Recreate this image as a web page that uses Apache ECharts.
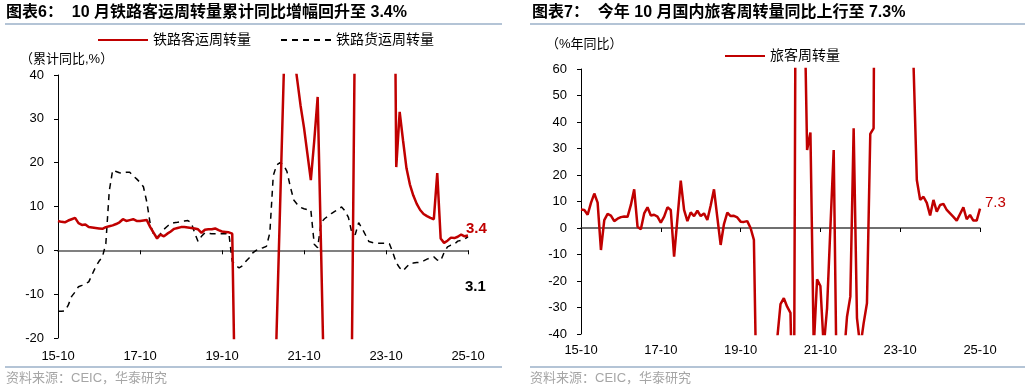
<!DOCTYPE html>
<html>
<head>
<meta charset="utf-8">
<script src="https://cdn.jsdelivr.net/npm/echarts@6/dist/echarts.min.js"></script>
<style>
  html, body { margin: 0; padding: 0; background: #fff; }
  #chart { width: 1031px; height: 392px; }
</style>
</head>
<body>
<div id="chart"></div>
<script>
(function () {
  'use strict';

  // monthly categories 2015-10 .. 2025-10
  const months = [];
  for (let i = 0; i < 121; i++) {
    const y = 2015 + Math.floor((9 + i) / 12);
    const mo = ((9 + i) % 12) + 1;
    months.push(String(y).slice(2) + '-' + String(mo).padStart(2, '0'));
  }

  // 图表6: 铁路客运周转量 累计同比 (%)
  const railPassenger = [
    6.7, 6.5, 6.4, 6.8, 7.1, 7.4, 6.2, 5.8, 5.9, 5.3,
    5.2, 5.1, 5.0, 4.9, 5.3, 5.5, 5.7, 6.0, 6.4, 7.1,
    6.7, 6.9, 7.1, 6.7, 6.7, 6.8, 6.9, 5.3, 4.0, 2.7,
    3.6, 3.2, 3.8, 4.3, 4.9, 5.1, 5.3, 5.3, 5.2, 5.1,
    5.0, 4.8, 4.0, 4.7, 4.8, 4.8, 5.0, 4.6, 4.3, 4.2,
    4.1, 3.8, -44, -52, -55, -53, -51, -49, -48, -47,
    -46, -45, -44, -48, -18, 10, 38, 66, 60, 45,
    39, 33, 28, 22, 16, 25, 35, 0, -36, -38,
    -36, -35, -34, -33, -32, -30, -25, 60, 90, 110,
    120, 125, 125, 124, 123, 122, 121, 120, 118, 19,
    31.6, 25, 18.7, 15, 12.5, 10.6, 9.2, 8.3, 7.8, 7.4,
    7.1, 17.6, 2.7, 1.7, 2.2, 2.9, 2.8, 3.1, 3.6, 3.2,
    3.4
  ];

  // 图表6: 铁路货运周转量 累计同比 (%)
  const railFreight = [
    -13.9, -13.9, -13.8, -12.5, -10.5, -9.5, -8.3, -8.0, -7.6, -7.2,
    -5.5, -3.8, -2.5, -1.5, 1.5, 13.5, 18.3, 18.0, 17.7, 17.6,
    17.8, 17.8, 17.0, 16.3, 15.5, 14.5, 11.0, 6.0, 3.6, 3.0,
    3.8, 4.8, 5.5, 6.1, 6.3, 6.4, 6.6, 6.7, 6.8, 6.3,
    4.0, 2.0, 3.2, 4.0, 3.9, 3.8, 3.8, 3.8, 3.8, 3.8,
    3.9, -2.5, -3.5, -4.0, -3.5, -2.5, -1.7, -0.6, 0.0, 0.4,
    0.6, 0.9, 4.0, 17.0, 19.5, 20.0, 19.5, 18.0, 14.5, 11.5,
    10.5, 9.8, 9.5, 9.3, 9.2, 1.4, 0.6, 6.3, 7.2, 7.8,
    8.4, 8.9, 9.3, 9.9, 9.0, 7.5, 4.0, 3.6, 6.3, 5.0,
    3.5, 2.0, 1.8, 1.6, 1.6, 1.6, 1.6, 1.5, -0.5, -2.8,
    -4.0, -4.7, -3.8, -3.0, -2.9, -2.8, -2.7, -2.4, -2.0, -1.7,
    -1.5, -2.2, -2.4, -0.5, 0.8, 1.2, 1.4, 2.1, 2.3, 2.6,
    3.1
  ];

  // 图表7: 旅客周转量 同比 (%)
  const passengerTurnover = [
    7.0, 6.8, 5.0, 9.5, 13.0, 9.6, -8.3, 3.0, 5.3, 4.7,
    2.6, 3.5, 4.1, 4.3, 4.2, 8.7, 14.6, 0.5, -0.5, 5.5,
    7.8, 4.7, 5.0, 4.3, 2.0, 4.3, 7.8, 6.8, -10.8, 3.5,
    17.9, 6.8, 2.6, 5.9, 4.5, 6.5, 4.5, 5.5, 3.0, 8.5,
    14.6, 4.0, -6.4, 1.5, 5.8, 4.5, 4.6, 4.0, 2.4, 2.3,
    2.6, 0.0, -4.5, -80, -78, -70, -60, -52, -47, -42,
    -28.7, -26.5, -29.7, -32, -90, 250, 150, 100, 29.4, 36,
    -45, -19.4, -21.9, -45, -30.3, 0, 29.4, -70, -60, -50,
    -33.5, -25.9, 37.6, -34, -45, -36, -28.4, 35.5, 37.6, 300,
    200, 150, 130, 120, 110, 100, 95, 90, 85, 120,
    62, 18.1, 10.6, 11.8, 9.5, 4.7, 10.6, 6.2, 8.7, 9.1,
    6.8, 5.5, 4.2, 2.8, 5.3, 7.8, 3.3, 4.9, 2.8, 2.8,
    7.3
  ];

  const leftTicks = [-20, 40, 10];
  const rightTicks = [-40, 60, 10];

  const font = "'Liberation Sans', Arial, 'Noto Sans CJK SC', sans-serif";
  const red = '#c00000';
  const lineColor = '#b4c4d6';

  const chart = echarts.init(document.getElementById('chart'));

  function labelAxis(gridIndex) {
    return {
      type: 'category',
      gridIndex,
      data: months,
      boundaryGap: false,
      position: 'bottom',
      axisLine: { show: false, onZero: false },
      axisTick: { show: false },
      splitLine: { show: false },
      axisLabel: {
        interval: 23,
        margin: gridIndex === 0 ? 12 : 10,
        color: '#000',
        fontSize: 13,
        fontFamily: font,
      },
    };
  }

  function zeroAxis(gridIndex, color, width) {
    return {
      type: 'category',
      gridIndex,
      data: months,
      boundaryGap: false,
      position: 'top',
      axisLine: { show: true, onZero: true, lineStyle: { color, width } },
      axisTick: { show: true, inside: true, interval: 23, length: 4, lineStyle: { color: '#000', width: 1 } },
      axisLabel: { show: false },
      splitLine: { show: false },
    };
  }

  function valueAxis(gridIndex, ticks) {
    return {
      type: 'value',
      gridIndex,
      min: ticks[0],
      max: ticks[1],
      interval: ticks[2],
      axisLine: { show: true, lineStyle: { color: '#000', width: 1 } },
      axisTick: { show: true, length: 4, lineStyle: { color: '#000' } },
      splitLine: { show: false },
      axisLabel: { margin: 14, color: '#000', fontSize: 13, fontFamily: font },
    };
  }

  const option = {
    backgroundColor: '#fff',
    animation: false,
    title: [
      {
        text: '图表6：  10 月铁路客运周转量累计同比增幅回升至 3.4%',
        left: 6, top: 5, padding: 0,
        textStyle: { fontSize: 16, fontWeight: 'bold', color: '#000', fontFamily: font },
      },
      {
        text: '图表7：  今年 10 月国内旅客周转量同比上行至 7.3%',
        left: 532, top: 5, padding: 0,
        textStyle: { fontSize: 16, fontWeight: 'bold', color: '#000', fontFamily: font },
      },
    ],
    legend: [
      {
        data: ['铁路客运周转量', '铁路货运周转量'],
        left: 97, top: 33, padding: 0,
        itemWidth: 50, itemHeight: 14, itemGap: 29,
        itemStyle: { opacity: 0 },
        textStyle: { fontSize: 14, color: '#000', fontFamily: font },
      },
      {
        data: ['旅客周转量'],
        left: 724, top: 49, padding: 0,
        itemWidth: 40, itemHeight: 14,
        itemStyle: { opacity: 0 },
        textStyle: { fontSize: 14, color: '#000', fontFamily: font },
      },
    ],
    grid: [
      { left: 58, right: 563, top: 75, bottom: 54, outerBoundsMode: 'none' },
      { left: 581, right: 51, top: 69, bottom: 58, outerBoundsMode: 'none' },
    ],
    xAxis: [
      labelAxis(0),
      zeroAxis(0, '#808080', 2),
      labelAxis(1),
      zeroAxis(1, '#404040', 1.5),
    ],
    yAxis: [valueAxis(0, leftTicks), valueAxis(1, rightTicks)],
    series: [
      {
        name: '铁路客运周转量',
        type: 'line',
        xAxisIndex: 0,
        yAxisIndex: 0,
        data: railPassenger,
        symbol: 'none',
        z: 3,
        lineStyle: { color: red, width: 2.5 },
        itemStyle: { color: red },
        endLabel: {
          show: true,
          formatter: '{c}',
          offset: [-10, -7],
          color: red,
          fontSize: 15,
          fontWeight: 'bold',
          fontFamily: font,
        },
      },
      {
        name: '铁路货运周转量',
        type: 'line',
        xAxisIndex: 0,
        yAxisIndex: 0,
        data: railFreight,
        symbol: 'none',
        z: 2,
        lineStyle: { color: '#000', width: 1.5, type: [6, 5] },
        itemStyle: { color: '#000' },
        endLabel: {
          show: true,
          formatter: '{c}',
          offset: [-11, 50],
          color: '#000',
          fontSize: 15,
          fontWeight: 'bold',
          fontFamily: font,
        },
      },
      {
        name: '旅客周转量',
        type: 'line',
        xAxisIndex: 2,
        yAxisIndex: 1,
        data: passengerTurnover,
        symbol: 'none',
        lineStyle: { color: red, width: 2.5 },
        itemStyle: { color: red },
        endLabel: {
          show: true,
          formatter: '{c}',
          offset: [-3, -6],
          color: red,
          fontSize: 15,
          fontFamily: font,
        },
      },
    ],
    graphic: [
      { type: 'line', shape: { x1: 5, y1: 24, x2: 502, y2: 24 }, style: { stroke: lineColor, lineWidth: 2 } },
      { type: 'line', shape: { x1: 530, y1: 24, x2: 1025, y2: 24 }, style: { stroke: lineColor, lineWidth: 2 } },
      { type: 'line', shape: { x1: 5, y1: 367, x2: 502, y2: 367 }, style: { stroke: lineColor, lineWidth: 2 } },
      { type: 'line', shape: { x1: 530, y1: 367, x2: 1025, y2: 367 }, style: { stroke: lineColor, lineWidth: 2 } },
      {
        type: 'text', left: 20, top: 53,
        style: { text: '（累计同比,%）', fontSize: 13, fontFamily: font, fill: '#000' },
      },
      {
        type: 'text', left: 546, top: 38,
        style: { text: '（%年同比）', fontSize: 13, fontFamily: font, fill: '#000' },
      },
      {
        type: 'text', left: 6, top: 372,
        style: { text: '资料来源：CEIC，华泰研究', fontSize: 13, fontFamily: font, fill: '#a6a6a6' },
      },
      {
        type: 'text', left: 530, top: 372,
        style: { text: '资料来源：CEIC，华泰研究', fontSize: 13, fontFamily: font, fill: '#a6a6a6' },
      },
    ],
  };

  chart.setOption(option);
})();
</script>
</body>
</html>
